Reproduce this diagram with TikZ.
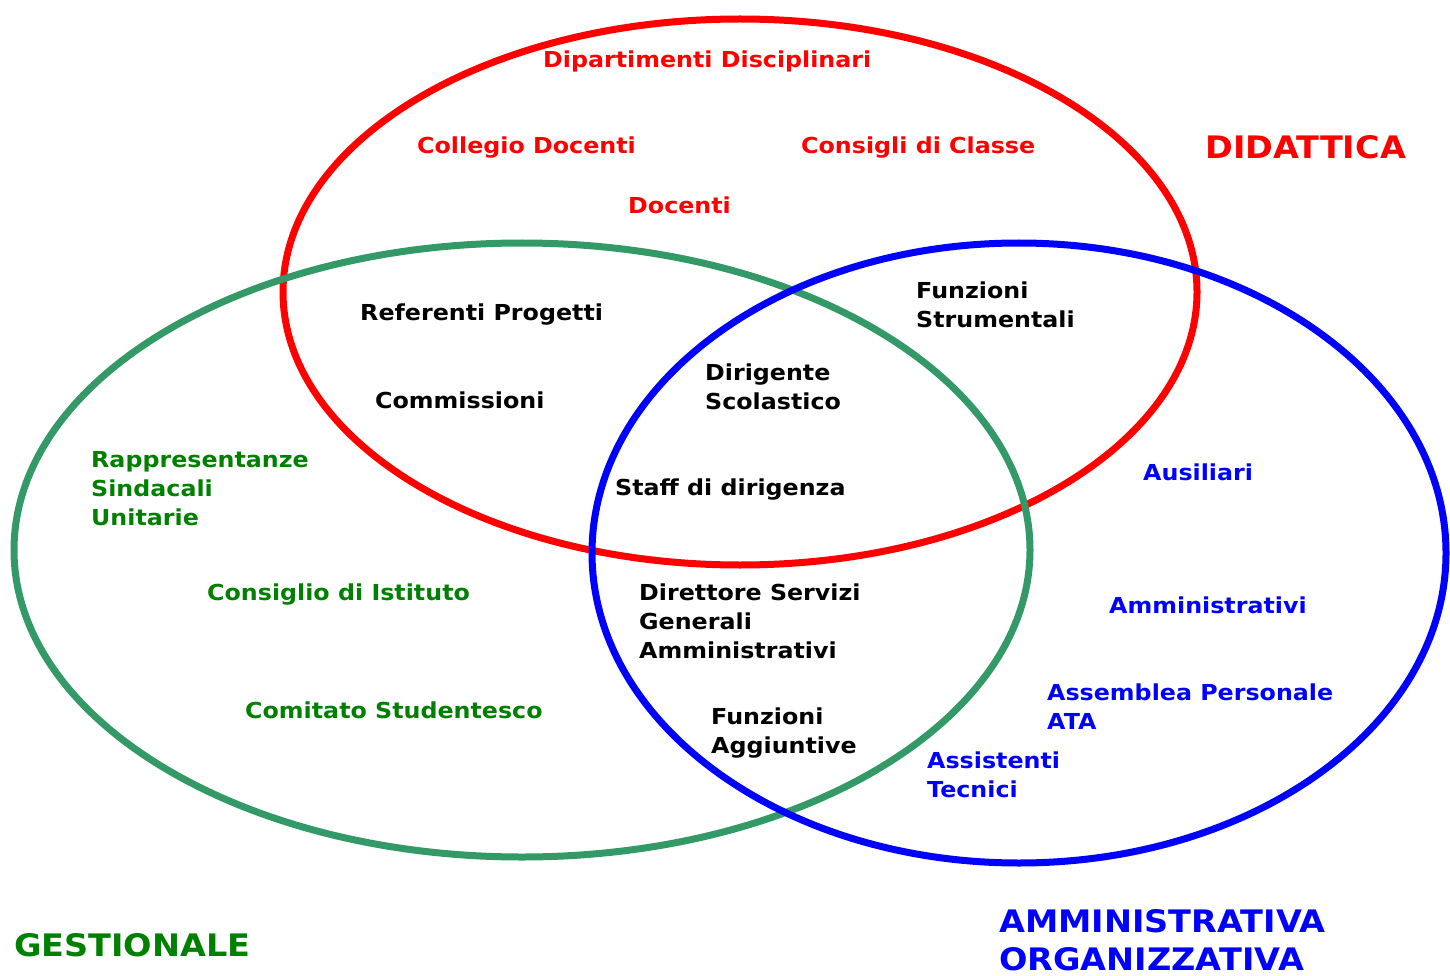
\documentclass[tikz,border=0pt]{standalone}
\usepackage{fontspec}
\setmainfont{DejaVu Sans}[FakeStretch=1.08]
\definecolor{vred}{RGB}{255,0,0}
\definecolor{vblue}{RGB}{0,0,255}
\definecolor{vgreenline}{RGB}{51,153,102}
\definecolor{vgreen}{RGB}{0,128,0}
\tikzset{
  lbl/.style={anchor=base west, inner sep=0pt, align=left, font=\bfseries\fontsize{22}{29}\selectfont},
  red lbl/.style={lbl, text=vred},
  blue lbl/.style={lbl, text=vblue},
  green lbl/.style={lbl, text=vgreen},
  black lbl/.style={lbl, text=black},
  title/.style={anchor=base west, inner sep=0pt, align=left, font=\bfseries\fontsize{31}{38}\selectfont},
  ring/.style={line width=7pt}
}
\begin{document}
\begin{tikzpicture}[x=1pt,y=-1pt]
\useasboundingbox (0,0) rectangle (1450,976);
\draw[ring, vred] (740,292) ellipse [x radius=457, y radius=273];
\draw[ring, vgreenline] (522,550) ellipse [x radius=508, y radius=307];
\draw[ring, vblue] (1019,553) ellipse [x radius=427, y radius=310];

\node[red lbl] (dip) at (543,68) {Dipartimenti Disciplinari};
\node[red lbl] (col) at (417,154) {Collegio Docenti};
\node[red lbl] (cdc) at (801,154) {Consigli di Classe};
\node[red lbl] (doc) at (628,214) {Docenti};
\node[title, text=vred] (did) at (1205,159) {DIDATTICA};

\node[black lbl] (ref) at (360,320) {Referenti Progetti};
\node[black lbl, anchor=north west] (fst) at (916,278) {\strut Funzioni\\\strut Strumentali};
\node[black lbl] (com) at (375,408) {Commissioni};
\node[black lbl, anchor=north west] (dir) at (705,360) {\strut Dirigente\\\strut Scolastico};
\node[black lbl] (stf) at (615,495) {Staff di dirigenza};
\node[black lbl, anchor=north west] (dsga) at (639,580) {\strut Direttore Servizi\\\strut Generali\\\strut Amministrativi};
\node[black lbl, anchor=north west] (fag) at (711,704) {\strut Funzioni\\\strut Aggiuntive};

\node[green lbl, anchor=north west] (rsu) at (91,447) {\strut Rappresentanze\\\strut Sindacali\\\strut Unitarie};
\node[green lbl] (cdi) at (207,600) {Consiglio di Istituto};
\node[green lbl] (cst) at (245,718) {Comitato Studentesco};
\node[title, text=vgreen] (ges) at (14,956) {GESTIONALE};

\node[blue lbl] (aus) at (1143,480) {Ausiliari};
\node[blue lbl] (amm) at (1109,613) {Amministrativi};
\node[blue lbl, anchor=north west] (ata) at (1047,680) {\strut Assemblea Personale\\\strut ATA};
\node[blue lbl, anchor=north west] (ass) at (927,748) {\strut Assistenti\\\strut Tecnici};
\node[title, text=vblue, anchor=north west] (ao) at (999,906) {\strut AMMINISTRATIVA\\\strut ORGANIZZATIVA};
\end{tikzpicture}
\end{document}
